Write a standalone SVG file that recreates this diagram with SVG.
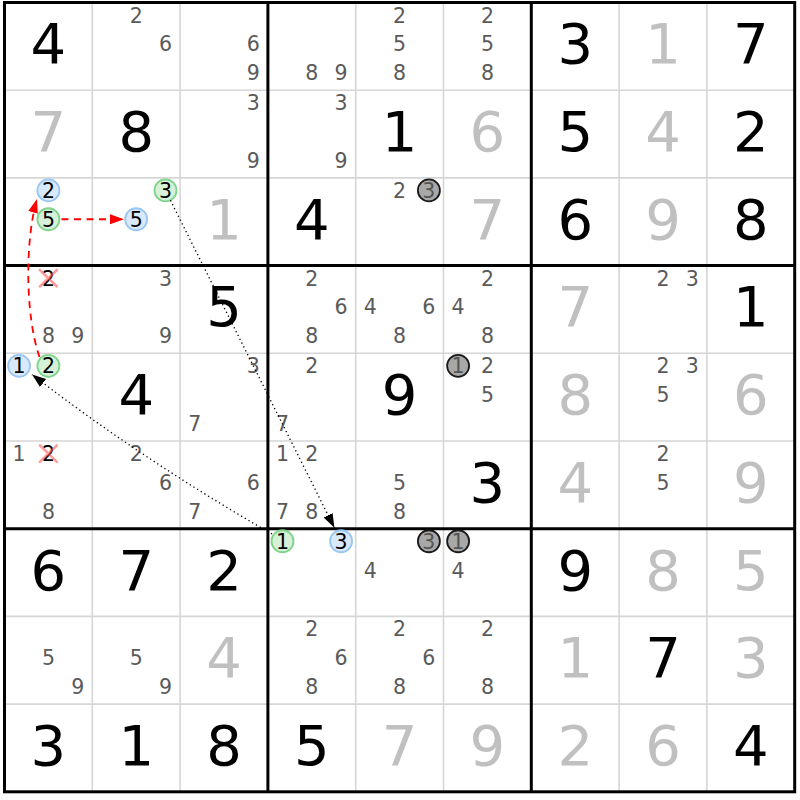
<svg xmlns="http://www.w3.org/2000/svg" width="800" height="800" viewBox="0 0 800 800">
<style>
text{font-family:"DejaVu Sans","Liberation Sans",sans-serif;text-anchor:middle}
.g{font-size:56px;fill:#000}
.s{font-size:56px;fill:#c0c0c0}
.c{font-size:20.5px;fill:#5a5a5a}
.k{font-size:20.5px;fill:#000}
.kg{font-size:20.5px;fill:#555}
.cb{fill:#d8e9fb;stroke:#9ac6f2;stroke-width:1.8}
.cg{fill:#d6f1d8;stroke:#7ed48a;stroke-width:1.8}
.cx{fill:#a8a8a8;stroke:#1a1a1a;stroke-width:1.8}
.x{stroke:#ff5a5a;stroke-opacity:0.6;stroke-width:2.6;stroke-linecap:round}
.thin{stroke:#d6d6d6;stroke-width:1.6}
.thick{stroke:#000;stroke-width:3}
.red{fill:none;stroke:#ff0000;stroke-width:1.8;stroke-dasharray:7 5.5}
.dot{fill:none;stroke:#000;stroke-width:1.3;stroke-dasharray:1.3 3}
</style>
<defs>
<marker id="ar" markerUnits="userSpaceOnUse" markerWidth="15" markerHeight="11" refX="14" refY="5" orient="auto"><path d="M0,0 L14,5 L0,10 z" fill="#ff0000"/></marker>
<marker id="ab" markerUnits="userSpaceOnUse" markerWidth="15" markerHeight="11" refX="14" refY="5" orient="auto"><path d="M0,0 L14,5 L0,10 z" fill="#000"/></marker>
</defs>
<rect x="0" y="0" width="800" height="800" fill="#fff"/>
<g id="grid">
<g class="thin">
<line x1="92.3" y1="2.5" x2="92.3" y2="791.8"/><line x1="180.1" y1="2.5" x2="180.1" y2="791.8"/>
<line x1="355.7" y1="2.5" x2="355.7" y2="791.8"/><line x1="443.5" y1="2.5" x2="443.5" y2="791.8"/>
<line x1="619.1" y1="2.5" x2="619.1" y2="791.8"/><line x1="706.9" y1="2.5" x2="706.9" y2="791.8"/>
<line x1="4.5" y1="90.2" x2="794.7" y2="90.2"/><line x1="4.5" y1="177.9" x2="794.7" y2="177.9"/>
<line x1="4.5" y1="353.3" x2="794.7" y2="353.3"/><line x1="4.5" y1="441.0" x2="794.7" y2="441.0"/>
<line x1="4.5" y1="616.4" x2="794.7" y2="616.4"/><line x1="4.5" y1="704.1" x2="794.7" y2="704.1"/>
</g>
<g class="thick">
<line x1="267.9" y1="2.5" x2="267.9" y2="791.8"/><line x1="531.3" y1="2.5" x2="531.3" y2="791.8"/>
<line x1="4.5" y1="265.6" x2="794.7" y2="265.6"/><line x1="4.5" y1="528.7" x2="794.7" y2="528.7"/>
<rect x="4.5" y="2.5" width="790.2" height="789.3" fill="none"/>
</g>
</g>

<g id="r0c0" transform="translate(48.4,46.35)"><text class="g" y="17">4</text></g>
<g id="r0c1" transform="translate(136.2,46.35)"><text class="c" x="0" y="-23.8">2</text><text class="c" x="29.3" y="5">6</text></g>
<g id="r0c2" transform="translate(224,46.35)"><text class="c" x="29.3" y="5">6</text><text class="c" x="29.3" y="33.8">9</text></g>
<g id="r0c3" transform="translate(311.8,46.35)"><text class="c" x="0" y="33.8">8</text><text class="c" x="29.3" y="33.8">9</text></g>
<g id="r0c4" transform="translate(399.6,46.35)"><text class="c" x="0" y="-23.8">2</text><text class="c" x="0" y="5">5</text><text class="c" x="0" y="33.8">8</text></g>
<g id="r0c5" transform="translate(487.4,46.35)"><text class="c" x="0" y="-23.8">2</text><text class="c" x="0" y="5">5</text><text class="c" x="0" y="33.8">8</text></g>
<g id="r0c6" transform="translate(575.2,46.35)"><text class="g" y="17">3</text></g>
<g id="r0c7" transform="translate(663,46.35)"><text class="s" y="17">1</text></g>
<g id="r0c8" transform="translate(750.8,46.35)"><text class="g" y="17">7</text></g>

<g id="r1c0" transform="translate(48.4,134.05)"><text class="s" y="17">7</text></g>
<g id="r1c1" transform="translate(136.2,134.05)"><text class="g" y="17">8</text></g>
<g id="r1c2" transform="translate(224,134.05)"><text class="c" x="29.3" y="-23.8">3</text><text class="c" x="29.3" y="33.8">9</text></g>
<g id="r1c3" transform="translate(311.8,134.05)"><text class="c" x="29.3" y="-23.8">3</text><text class="c" x="29.3" y="33.8">9</text></g>
<g id="r1c4" transform="translate(399.6,134.05)"><text class="g" y="17">1</text></g>
<g id="r1c5" transform="translate(487.4,134.05)"><text class="s" y="17">6</text></g>
<g id="r1c6" transform="translate(575.2,134.05)"><text class="g" y="17">5</text></g>
<g id="r1c7" transform="translate(663,134.05)"><text class="s" y="17">4</text></g>
<g id="r1c8" transform="translate(750.8,134.05)"><text class="g" y="17">2</text></g>

<g id="r2c0" transform="translate(48.4,221.75)"><circle class="cb" cx="0" cy="-31.3" r="11"/><text class="k" x="0" y="-23.8">2</text><circle class="cg" cx="0" cy="-2.5" r="11"/><text class="k" x="0" y="5">5</text></g>
<g id="r2c1" transform="translate(136.2,221.75)"><circle class="cg" cx="29.3" cy="-31.3" r="11"/><text class="k" x="29.3" y="-23.8">3</text><circle class="cb" cx="0" cy="-2.5" r="11"/><text class="k" x="0" y="5">5</text></g>
<g id="r2c2" transform="translate(224,221.75)"><text class="s" y="17">1</text></g>
<g id="r2c3" transform="translate(311.8,221.75)"><text class="g" y="17">4</text></g>
<g id="r2c4" transform="translate(399.6,221.75)"><text class="c" x="0" y="-23.8">2</text><circle class="cx" cx="29.3" cy="-31.3" r="11"/><text class="kg" x="29.3" y="-23.8">3</text></g>
<g id="r2c5" transform="translate(487.4,221.75)"><text class="s" y="17">7</text></g>
<g id="r2c6" transform="translate(575.2,221.75)"><text class="g" y="17">6</text></g>
<g id="r2c7" transform="translate(663,221.75)"><text class="s" y="17">9</text></g>
<g id="r2c8" transform="translate(750.8,221.75)"><text class="g" y="17">8</text></g>

<g id="r3c0" transform="translate(48.4,309.45)"><text class="k" x="0" y="-23.8">2</text><path class="x" d="M-8.5,-39.5 L8.5,-23 M8.5,-39.5 L-8.5,-23"/><text class="c" x="0" y="33.8">8</text><text class="c" x="29.3" y="33.8">9</text></g>
<g id="r3c1" transform="translate(136.2,309.45)"><text class="c" x="29.3" y="-23.8">3</text><text class="c" x="29.3" y="33.8">9</text></g>
<g id="r3c2" transform="translate(224,309.45)"><text class="g" y="17">5</text></g>
<g id="r3c3" transform="translate(311.8,309.45)"><text class="c" x="0" y="-23.8">2</text><text class="c" x="29.3" y="5">6</text><text class="c" x="0" y="33.8">8</text></g>
<g id="r3c4" transform="translate(399.6,309.45)"><text class="c" x="-29.3" y="5">4</text><text class="c" x="29.3" y="5">6</text><text class="c" x="0" y="33.8">8</text></g>
<g id="r3c5" transform="translate(487.4,309.45)"><text class="c" x="0" y="-23.8">2</text><text class="c" x="-29.3" y="5">4</text><text class="c" x="0" y="33.8">8</text></g>
<g id="r3c6" transform="translate(575.2,309.45)"><text class="s" y="17">7</text></g>
<g id="r3c7" transform="translate(663,309.45)"><text class="c" x="0" y="-23.8">2</text><text class="c" x="29.3" y="-23.8">3</text></g>
<g id="r3c8" transform="translate(750.8,309.45)"><text class="g" y="17">1</text></g>

<g id="r4c0" transform="translate(48.4,397.15)"><circle class="cb" cx="-29.3" cy="-31.3" r="11"/><text class="k" x="-29.3" y="-23.8">1</text><circle class="cg" cx="0" cy="-31.3" r="11"/><text class="k" x="0" y="-23.8">2</text></g>
<g id="r4c1" transform="translate(136.2,397.15)"><text class="g" y="17">4</text></g>
<g id="r4c2" transform="translate(224,397.15)"><text class="c" x="29.3" y="-23.8">3</text><text class="c" x="-29.3" y="33.8">7</text></g>
<g id="r4c3" transform="translate(311.8,397.15)"><text class="c" x="0" y="-23.8">2</text><text class="c" x="-29.3" y="33.8">7</text></g>
<g id="r4c4" transform="translate(399.6,397.15)"><text class="g" y="17">9</text></g>
<g id="r4c5" transform="translate(487.4,397.15)"><circle class="cx" cx="-29.3" cy="-31.3" r="11"/><text class="kg" x="-29.3" y="-23.8">1</text><text class="c" x="0" y="-23.8">2</text><text class="c" x="0" y="5">5</text></g>
<g id="r4c6" transform="translate(575.2,397.15)"><text class="s" y="17">8</text></g>
<g id="r4c7" transform="translate(663,397.15)"><text class="c" x="0" y="-23.8">2</text><text class="c" x="29.3" y="-23.8">3</text><text class="c" x="0" y="5">5</text></g>
<g id="r4c8" transform="translate(750.8,397.15)"><text class="s" y="17">6</text></g>

<g id="r5c0" transform="translate(48.4,484.85)"><text class="c" x="-29.3" y="-23.8">1</text><text class="k" x="0" y="-23.8">2</text><path class="x" d="M-8.5,-39.5 L8.5,-23 M8.5,-39.5 L-8.5,-23"/><text class="c" x="0" y="33.8">8</text></g>
<g id="r5c1" transform="translate(136.2,484.85)"><text class="c" x="0" y="-23.8">2</text><text class="c" x="29.3" y="5">6</text></g>
<g id="r5c2" transform="translate(224,484.85)"><text class="c" x="29.3" y="5">6</text><text class="c" x="-29.3" y="33.8">7</text></g>
<g id="r5c3" transform="translate(311.8,484.85)"><text class="c" x="-29.3" y="-23.8">1</text><text class="c" x="0" y="-23.8">2</text><text class="c" x="-29.3" y="33.8">7</text><text class="c" x="0" y="33.8">8</text></g>
<g id="r5c4" transform="translate(399.6,484.85)"><text class="c" x="0" y="5">5</text><text class="c" x="0" y="33.8">8</text></g>
<g id="r5c5" transform="translate(487.4,484.85)"><text class="g" y="17">3</text></g>
<g id="r5c6" transform="translate(575.2,484.85)"><text class="s" y="17">4</text></g>
<g id="r5c7" transform="translate(663,484.85)"><text class="c" x="0" y="-23.8">2</text><text class="c" x="0" y="5">5</text></g>
<g id="r5c8" transform="translate(750.8,484.85)"><text class="s" y="17">9</text></g>

<g id="r6c0" transform="translate(48.4,572.55)"><text class="g" y="17">6</text></g>
<g id="r6c1" transform="translate(136.2,572.55)"><text class="g" y="17">7</text></g>
<g id="r6c2" transform="translate(224,572.55)"><text class="g" y="17">2</text></g>
<g id="r6c3" transform="translate(311.8,572.55)"><circle class="cg" cx="-29.3" cy="-31.3" r="11"/><text class="k" x="-29.3" y="-23.8">1</text><circle class="cb" cx="29.3" cy="-31.3" r="11"/><text class="k" x="29.3" y="-23.8">3</text></g>
<g id="r6c4" transform="translate(399.6,572.55)"><circle class="cx" cx="29.3" cy="-31.3" r="11"/><text class="kg" x="29.3" y="-23.8">3</text><text class="c" x="-29.3" y="5">4</text></g>
<g id="r6c5" transform="translate(487.4,572.55)"><circle class="cx" cx="-29.3" cy="-31.3" r="11"/><text class="kg" x="-29.3" y="-23.8">1</text><text class="c" x="-29.3" y="5">4</text></g>
<g id="r6c6" transform="translate(575.2,572.55)"><text class="g" y="17">9</text></g>
<g id="r6c7" transform="translate(663,572.55)"><text class="s" y="17">8</text></g>
<g id="r6c8" transform="translate(750.8,572.55)"><text class="s" y="17">5</text></g>

<g id="r7c0" transform="translate(48.4,660.25)"><text class="c" x="0" y="5">5</text><text class="c" x="29.3" y="33.8">9</text></g>
<g id="r7c1" transform="translate(136.2,660.25)"><text class="c" x="0" y="5">5</text><text class="c" x="29.3" y="33.8">9</text></g>
<g id="r7c2" transform="translate(224,660.25)"><text class="s" y="17">4</text></g>
<g id="r7c3" transform="translate(311.8,660.25)"><text class="c" x="0" y="-23.8">2</text><text class="c" x="29.3" y="5">6</text><text class="c" x="0" y="33.8">8</text></g>
<g id="r7c4" transform="translate(399.6,660.25)"><text class="c" x="0" y="-23.8">2</text><text class="c" x="29.3" y="5">6</text><text class="c" x="0" y="33.8">8</text></g>
<g id="r7c5" transform="translate(487.4,660.25)"><text class="c" x="0" y="-23.8">2</text><text class="c" x="0" y="33.8">8</text></g>
<g id="r7c6" transform="translate(575.2,660.25)"><text class="s" y="17">1</text></g>
<g id="r7c7" transform="translate(663,660.25)"><text class="g" y="17">7</text></g>
<g id="r7c8" transform="translate(750.8,660.25)"><text class="s" y="17">3</text></g>

<g id="r8c0" transform="translate(48.4,747.95)"><text class="g" y="17">3</text></g>
<g id="r8c1" transform="translate(136.2,747.95)"><text class="g" y="17">1</text></g>
<g id="r8c2" transform="translate(224,747.95)"><text class="g" y="17">8</text></g>
<g id="r8c3" transform="translate(311.8,747.95)"><text class="g" y="17">5</text></g>
<g id="r8c4" transform="translate(399.6,747.95)"><text class="s" y="17">7</text></g>
<g id="r8c5" transform="translate(487.4,747.95)"><text class="s" y="17">9</text></g>
<g id="r8c6" transform="translate(575.2,747.95)"><text class="s" y="17">2</text></g>
<g id="r8c7" transform="translate(663,747.95)"><text class="s" y="17">6</text></g>
<g id="r8c8" transform="translate(750.8,747.95)"><text class="g" y="17">4</text></g>

<g id="connectors">
<path class="red" d="M61.5,219.25 L124,219.25" marker-end="url(#ar)"/>
<path class="red" d="M39.5,357 C25,315 25,240 37,199" marker-end="url(#ar)"/>
<path class="dot" d="M170.4,200.3 L334.4,527.8" marker-end="url(#ab)"/>
<path class="dot" d="M272,534 Q143,460 32,374.5" marker-end="url(#ab)"/>
</g>
</svg>
